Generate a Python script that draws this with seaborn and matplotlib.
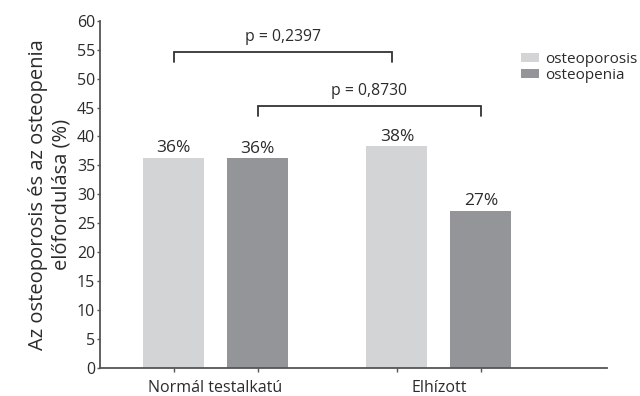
import matplotlib
matplotlib.use("Agg")
import matplotlib.pyplot as plt
import seaborn as sns
import pandas as pd
from matplotlib.patches import Patch

groups = ["Normál testalkatú", "Elhízott"]
series = ["osteoporosis", "osteopenia"]
osteoporosis_vals = [36.3, 38.3]
osteopenia_vals = [36.2, 27.2]
pct_labels_osteoporosis = ["36%", "38%"]
pct_labels_osteopenia = ["36%", "27%"]
yticks = list(range(0, 61, 5))
p_labels = ["p = 0,2397", "p = 0,8730"]

colors = {"osteoporosis": "#d3d4d6", "osteopenia": "#939598"}
text_color = "#2b2b2b"

sns.set_theme(style="ticks")
plt.rcParams["font.family"] = ["Open Sans", "DejaVu Sans"]

df = pd.DataFrame({
    "group": groups * 2,
    "series": [series[0]] * 2 + [series[1]] * 2,
    "value": osteoporosis_vals + osteopenia_vals,
    "label": pct_labels_osteoporosis + pct_labels_osteopenia,
})

fig = plt.figure(figsize=(6.4, 3.96), dpi=100)
ax = fig.add_axes([100 / 640, 1 - 368 / 396, 507 / 640, (368 - 20.7) / 396])

sns.barplot(data=df, x="group", y="value", hue="series", hue_order=series,
            order=groups, palette=colors, width=0.752, gap=0.274,
            saturation=1, legend=False, ax=ax, edgecolor="none")

ax.set_xlim(-0.517, 1.752)
ax.set_ylim(0, 60)
ax.set_yticks(yticks)
ax.set_yticklabels([str(t) for t in yticks])
ax.set_xlabel("")
ax.set_ylabel("Az osteoporosis és az osteopenia\nelőfordulása (%)",
              fontsize=14.5, color=text_color, labelpad=4, linespacing=1.25)

for s in ["top", "right"]:
    ax.spines[s].set_visible(False)
for s in ["left", "bottom"]:
    ax.spines[s].set_color("#555555")
    ax.spines[s].set_linewidth(1.3)

# bars sorted by position
bars = sorted([p for p in ax.patches if p.get_height() > 0], key=lambda p: p.get_x())
centers = [b.get_x() + b.get_width() / 2 for b in bars]
ax.set_xticks(centers)
ax.set_xticklabels([""] * len(centers))
ax.tick_params(axis="x", length=3, width=1, color="#555555", direction="out")
ax.tick_params(axis="y", length=2.5, width=1, color="#555555", direction="out",
               labelsize=11.5, labelcolor=text_color, pad=1)

# group labels
for i, g in enumerate(groups):
    ax.text(i, -2.0, g, ha="center", va="top", fontsize=11.5, color=text_color,
            transform=ax.transData, clip_on=False)

# percent labels
lab_map = {}
for _, r in df.iterrows():
    lab_map[(r["group"], r["series"])] = r["label"]
ordered_labels = [lab_map[(groups[0], series[0])], lab_map[(groups[0], series[1])],
                  lab_map[(groups[1], series[0])], lab_map[(groups[1], series[1])]]
for b, lab in zip(bars, ordered_labels):
    ax.annotate(lab, (b.get_x() + b.get_width() / 2, b.get_height()),
                xytext=(0, 1), textcoords="offset points",
                ha="center", va="bottom", fontsize=12.5, color=text_color)

# significance brackets
def bracket(x1, x2, y_top, y_bot, text, ty):
    ax.plot([x1, x1, x2, x2], [y_bot, y_top, y_top, y_bot], color="#333333",
            lw=1.3, clip_on=False, solid_joinstyle="miter")
    ax.text((x1 + x2) / 2, ty, text, ha="center", va="center", fontsize=11.3,
            color=text_color)

bracket(centers[0], centers[2] - 0.02, 54.6, 52.9, p_labels[0], 57.1)
bracket(centers[1], centers[3], 45.25, 43.6, p_labels[1], 47.8)

handles = [Patch(facecolor=colors[s], edgecolor="none", label=s) for s in series]
fig.legend(handles=handles, loc="upper left", bbox_to_anchor=(521 / 640, 1 - 52 / 396),
           frameon=False, fontsize=11, handlelength=1.2, handleheight=0.55,
           handletextpad=0.35, labelspacing=0.05, borderpad=0, borderaxespad=0,
           labelcolor=text_color)

fig.savefig("out.png", dpi=100)
